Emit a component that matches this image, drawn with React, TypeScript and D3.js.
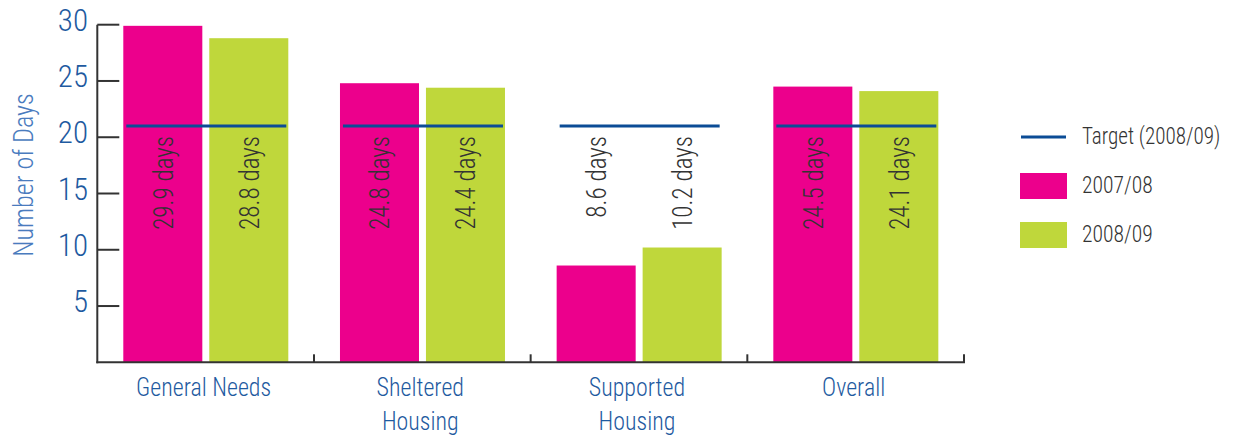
import React from "react";
import * as d3 from "d3";

const categories = ["General Needs", "Sheltered Housing", "Supported Housing", "Overall"];
const categoryLabelLines = [["General Needs"], ["Sheltered", "Housing"], ["Supported", "Housing"], ["Overall"]];
const series = ["2007/08", "2008/09"];
const values2007 = [29.9, 24.8, 8.6, 24.5];
const values2008 = [28.8, 24.4, 10.2, 24.1];
const targetValue = 21;
const targetLabel = "Target (2008/09)";
const yTicks = [5, 10, 15, 20, 25, 30];
const yAxisTitle = "Number of Days";

const FONT = "'Roboto Condensed', 'Liberation Sans Narrow', 'Arial Narrow', Roboto, sans-serif";
const COLORS: Record<string, string> = { "2007/08": "#EC008C", "2008/09": "#BFD73B" };
const BLUE = "#1E5AA0";
const TARGET_BLUE = "#0B4C96";
const AXIS = "#333333";
const TEXT = "#333333";
const W = 300;

export default function App() {
  const width = 1236;
  const height = 436;
  const left = 97.3;
  const right = 964;
  const top = 24.7;
  const bottom = 362.3;

  const y = d3.scaleLinear().domain([0, 30]).range([bottom, top]);
  const x0 = d3.scaleBand<string>().domain(categories).range([left, right]).padding(0);
  const x1 = d3.scaleBand<string>().domain(series).range([26, 191]).paddingInner(0.081);
  const bw = x1.bandwidth();

  const valuesBySeries: Record<string, number[]> = { "2007/08": values2007, "2008/09": values2008 };

  return (
    <svg
      width={width}
      height={height}
      style={{ position: "absolute", left: 0, top: 0, background: "#fff" }}
      fontFamily={FONT}
      fontWeight={W}
    >
      {/* y axis title */}
      <text
        transform={`translate(24,175) rotate(-90) scale(0.97,1)`}
        textAnchor="middle"
        dy="0.35em"
        fontSize={27}
        fill="#4A7BBE"
      >
        {yAxisTitle}
      </text>

      {/* bars */}
      {categories.map((c, i) => (
        <g key={c} transform={`translate(${x0(c)},0)`}>
          {series.map((s) => {
            const v = valuesBySeries[s][i];
            return (
              <rect
                key={s}
                x={x1(s)}
                y={y(v)}
                width={bw}
                height={y(0) - y(v)}
                fill={COLORS[s]}
              />
            );
          })}
        </g>
      ))}

      {/* target lines */}
      {categories.map((c) => (
        <line
          key={"t" + c}
          x1={(x0(c) as number) + (x1(series[0]) as number) + 3}
          x2={(x0(c) as number) + (x1(series[1]) as number) + bw - 2}
          y1={y(targetValue)}
          y2={y(targetValue)}
          stroke={TARGET_BLUE}
          strokeWidth={3}
        />
      ))}

      {/* value labels */}
      {categories.map((c, i) => (
        <g key={"l" + c}>
          {series.map((s) => {
            const v = valuesBySeries[s][i];
            const cx = (x0(c) as number) + (x1(s) as number) + bw / 2;
            const ly = y(targetValue) + 10;
            return (
              <text
                key={s}
                transform={`translate(${cx},${ly}) rotate(-90) scale(0.93,1)`}
                textAnchor="end"
                dy="0.36em"
                fontSize={27}
                fill={TEXT}
              >
                {`${v} days`}
              </text>
            );
          })}
        </g>
      ))}

      {/* y axis */}
      <line x1={left} x2={left} y1={top} y2={bottom + 1} stroke={AXIS} strokeWidth={2} />
      {yTicks.map((t) => (
        <g key={"yt" + t}>
          <line x1={left} x2={left + 22} y1={y(t)} y2={y(t)} stroke={AXIS} strokeWidth={2} />
          <text x={88} y={y(t)} dy="0.2em" textAnchor="end" fontSize={31} fill={BLUE}>
            {t}
          </text>
        </g>
      ))}

      {/* x axis */}
      <line x1={left - 1} x2={right + 1} y1={bottom} y2={bottom} stroke={AXIS} strokeWidth={2} />
      {categories.map((c) => {
        const bx = (x0(c) as number) + x0.bandwidth();
        return <line key={"xt" + c} x1={bx} x2={bx} y1={bottom} y2={bottom - 8} stroke={AXIS} strokeWidth={2} />;
      })}
      {categories.map((c, i) => {
        const cx = (x0(c) as number) + x0.bandwidth() / 2 - 2;
        return (
          <text
            key={"xl" + c}
            transform={`translate(${cx},396) scale(0.92,1)`}
            textAnchor="middle"
            fontSize={26}
            fill={BLUE}
          >
            {categoryLabelLines[i].map((ln, j) => (
              <tspan key={j} x={0} y={j * 34}>
                {ln}
              </tspan>
            ))}
          </text>
        );
      })}

      {/* legend */}
      <line x1={1021} x2={1066} y1={137} y2={137} stroke={TARGET_BLUE} strokeWidth={3} />
      <text transform="translate(1082,144) scale(0.88,1)" fontSize={24} fill={TEXT}>{targetLabel}</text>
      {series.map((s, i) => (
        <g key={"lg" + s}>
          <rect x={1020} y={173 + i * 49} width={47} height={26} fill={COLORS[s]} />
          <text transform={`translate(1082,${193 + i * 49}) scale(0.9,1)`} fontSize={24} fill={TEXT}>{s}</text>
        </g>
      ))}
    </svg>
  );
}
